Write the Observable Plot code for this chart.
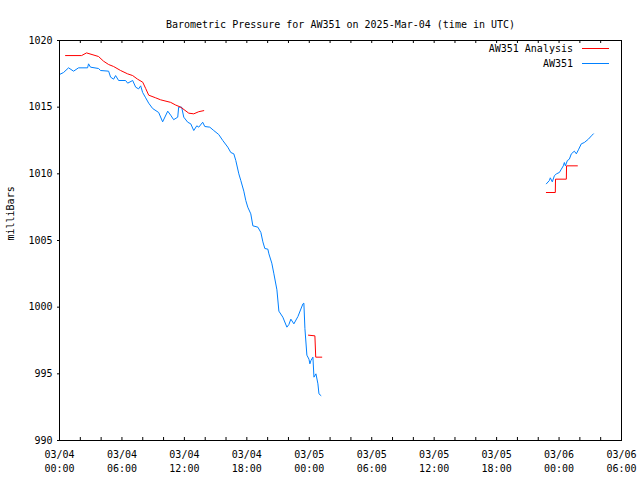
<!DOCTYPE html>
<html>
<head>
<meta charset="utf-8">
<script src="https://cdn.jsdelivr.net/npm/d3@7"></script>
<script src="https://cdn.jsdelivr.net/npm/@observablehq/plot@0.6"></script>
<style>
  html, body { margin: 0; padding: 0; background: #fff; }
  #wrap { position: relative; width: 640px; height: 480px; }
  #legend { position: absolute; left: 0; top: 0; width: 640px; height: 80px; pointer-events: none;
            font-family: "DejaVu Sans Mono", monospace; font-size: 10px; }
</style>
</head>
<body>
<div id="wrap"><div id="chart"></div><svg id="legend" width="640" height="80"></svg></div>
<script>
// ---- Data (hours after 2025-03-04 00:00 UTC) ----
const titleText = "Barometric Pressure for AW351 on 2025-Mar-04 (time in UTC)";
const yLabel = "milliBars";
const seriesNames = ["AW351 Analysis", "AW351"];
const seriesColors = ["#ff0000", "#0080ff"];

const analysisHours = [0.58, 2.12, 2.60, 3.75, 4.23, 4.72, 5.20, 5.87, 6.54, 7.03, 7.50, 8.00, 8.28, 8.57, 9.24, 9.72, 10.68, 11.16, 11.65, 12.42, 12.90, 13.38, 13.86,
  null,
  23.92, 24.54, 24.62, 25.20,
  null,
  46.78, 47.64, 47.66, 48.70, 48.72, 49.76];
const analysisValues = [1018.87, 1018.87, 1019.07, 1018.80, 1018.45, 1018.20, 1018.05, 1017.75, 1017.50, 1017.37, 1017.10, 1016.87, 1016.40, 1015.90, 1015.70, 1015.55, 1015.36, 1015.16, 1015.00, 1014.55, 1014.50, 1014.66, 1014.74,
  null,
  997.90, 997.85, 996.25, 996.25,
  null,
  1008.60, 1008.60, 1009.60, 1009.60, 1010.60, 1010.60];

const stationHours = [0.00, 0.39, 0.87, 1.35, 1.83, 2.70, 2.79, 2.98, 3.75, 3.95, 4.72, 4.91, 5.20, 5.39, 5.68, 6.35, 6.55, 7.03, 7.32, 7.60, 7.80, 7.99, 8.28, 8.57, 8.95, 9.53, 9.91, 10.40, 10.68, 10.97, 11.36, 11.45, 11.74, 11.94, 12.32, 12.61, 12.90, 13.19, 13.38, 13.76, 13.96, 14.44, 14.82, 15.30, 15.69, 16.17, 16.46, 16.75, 16.94, 17.23, 17.42, 17.71, 17.90, 18.09, 18.38, 18.58, 19.06, 19.35, 19.54, 19.73, 20.02, 20.12, 20.40, 20.60, 20.89, 21.08, 21.46, 21.85, 22.04, 22.23, 22.52, 22.91, 23.39, 23.48, 23.58, 23.77, 23.97, 24.06, 24.16, 24.35, 24.45, 24.64, 24.83, 24.93, 25.12,
  null,
  46.78, 47.07, 47.16, 47.35, 47.55, 47.74, 48.03, 48.22, 48.41, 48.51, 48.61, 48.80, 48.99, 49.18, 49.47, 49.66, 49.86, 50.14, 50.43, 50.82, 51.11, 51.30];
const stationValues = [1017.45, 1017.60, 1017.95, 1017.70, 1017.95, 1017.95, 1018.25, 1018.00, 1017.90, 1017.75, 1017.70, 1017.25, 1017.10, 1017.37, 1017.00, 1017.00, 1016.80, 1017.00, 1016.50, 1016.37, 1016.60, 1016.10, 1015.70, 1015.30, 1014.90, 1014.60, 1013.90, 1014.70, 1014.40, 1014.06, 1014.25, 1015.00, 1015.00, 1014.25, 1013.87, 1013.75, 1013.25, 1013.60, 1013.50, 1013.87, 1013.55, 1013.50, 1013.25, 1012.95, 1012.50, 1012.00, 1011.60, 1011.50, 1011.00, 1010.00, 1009.50, 1008.70, 1008.00, 1007.50, 1007.00, 1006.10, 1006.00, 1005.60, 1004.90, 1004.40, 1004.35, 1004.00, 1003.30, 1002.50, 1001.30, 999.70, 999.25, 998.50, 998.70, 999.10, 998.75, 999.30, 1000.25, 1000.30, 998.40, 996.40, 996.10, 995.75, 996.00, 996.25, 994.75, 995.00, 994.25, 993.50, 993.37,
  null,
  1009.25, 1009.50, 1009.70, 1009.40, 1009.85, 1010.00, 1010.10, 1010.35, 1010.60, 1010.85, 1010.60, 1011.00, 1011.10, 1011.50, 1011.70, 1011.50, 1011.80, 1012.25, 1012.35, 1012.60, 1012.85, 1013.00];

const startTime = Date.UTC(2025, 2, 4, 0, 0);
const endTime = Date.UTC(2025, 2, 6, 6, 0);
const yTicks = [990, 995, 1000, 1005, 1010, 1015, 1020];

// ---- Build tables ----
const toDate = h => h == null ? null : new Date(startTime + h * 3600e3);
const analysis = analysisHours.map((h, i) => ({t: toDate(h), p: analysisValues[i]}));
const station = stationHours.map((h, i) => ({t: toDate(h), p: stationValues[i]}));

const font = "DejaVu Sans Mono, monospace";
const fmt = d3.utcFormat("%m/%d\n%H:%M");
const xDomain = [new Date(startTime), new Date(endTime)];
const ticks2h = d3.utcHour.range(xDomain[0], new Date(endTime + 1), 2);
const ticks6h = d3.utcHour.range(xDomain[0], new Date(endTime + 1), 6);

const plotHeight = 480, marginTop = 40, marginBottom = 40, tickLen = 3;
const frameH = plotHeight - marginTop - marginBottom;

const chart = Plot.plot({
  width: 640,
  height: plotHeight,
  marginLeft: 59,
  marginRight: 19,
  marginTop,
  marginBottom,
  style: {fontFamily: font, fontSize: "10px", background: "#fff", color: "#000"},
  x: {type: "utc", domain: xDomain},
  y: {domain: [990, 1020]},
  marks: [
    Plot.ruleX(ticks2h, {x: d => d, stroke: "#000", insetTop: frameH - tickLen}),
    Plot.ruleX(ticks2h, {x: d => d, stroke: "#000", insetBottom: frameH - tickLen}),
    Plot.axisX({anchor: "bottom", ticks: ticks6h, tickSize: 0, tickPadding: 8, tickFormat: fmt, lineHeight: 1.4, label: null, fill: "#000"}),
    Plot.axisY({anchor: "left", ticks: yTicks, tickSize: 2, tickPadding: 5, tickFormat: d => String(d), label: null, fill: "#000"}),
    Plot.line(station, {x: "t", y: "p", stroke: seriesColors[1], strokeWidth: 1, curve: "linear"}),
    Plot.line(analysis, {x: "t", y: "p", stroke: seriesColors[0], strokeWidth: 1, curve: "linear"}),
    Plot.frame({stroke: "#000", strokeWidth: 1}),
    Plot.text([titleText], {frameAnchor: "top", dy: -20, fill: "#000", fontSize: 10}),
    Plot.text([yLabel], {frameAnchor: "left", dx: -49, rotate: -90, fill: "#000", fontSize: 10})
  ]
});
document.getElementById("chart").appendChild(chart);

// ---- Legend (top right, inside plot) ----
const legend = d3.select("#legend");
seriesNames.forEach((name, i) => {
  const y = 49 + i * 15;
  legend.append("text").attr("x", 573).attr("y", y).attr("text-anchor", "end")
    .attr("dominant-baseline", "middle").attr("fill", "#000").text(name);
  legend.append("line").attr("x1", 582).attr("x2", 609).attr("y1", y - 0.5).attr("y2", y - 0.5)
    .attr("stroke", seriesColors[i]).attr("stroke-width", 1);
});
</script>
</body>
</html>
